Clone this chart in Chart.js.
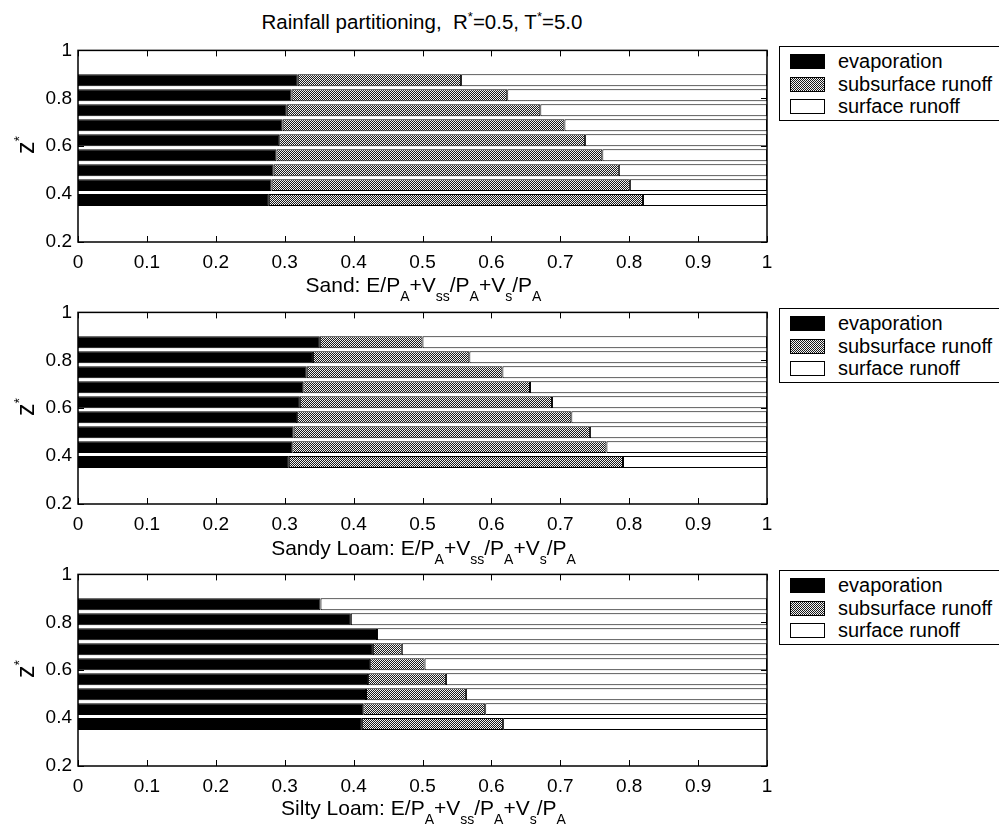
<!DOCTYPE html>
<html>
<head>
<meta charset="utf-8">
<script src="https://cdn.jsdelivr.net/npm/chart.js@4.4.1/dist/chart.umd.min.js"></script>
<style>
  body { margin: 0; background: #fff; }
  #page { position: relative; width: 999px; height: 829px; overflow: hidden; background: #fff;
          font-family: 'Liberation Sans', Arial, sans-serif; color: #000; }
  .cv { position: absolute; left: 0; }
  .txt { position: absolute; white-space: nowrap; font-size: 21px; line-height: 22px; }
  .txt sub { font-size: 14px; vertical-align: -9px; line-height: 0; }
  .txt sup { font-size: 13px; vertical-align: 8px; line-height: 0; }
  .title { font-size: 20.5px; }
  .ytitle { font-size: 25px; transform: translate(-50%, -50%) rotate(-90deg); }
  .ytitle sup { font-size: 14px; vertical-align: 10px; }
  .xtitle { transform: translateX(-50%); }
  .legend { position: absolute; left: 779px; width: 240px; height: 73px; border: 1px solid #000; background: #fff; }
  .legend .sw { position: absolute; left: 10px; width: 33px; height: 13px; border: 1px solid #000; }
  .legend .lb { position: absolute; left: 58px; font-size: 20px; line-height: 20px; white-space: nowrap; }
  .hatch { background: repeating-conic-gradient(#1a1a1a 0 25%, #f2f2f2 0 50%) 0 0 / 2px 2px; }
</style>
</head>
<body>
<div id="page">
  <div class="txt title xtitle" style="left:422px; top:11px;">Rainfall partitioning,&nbsp; R<sup>*</sup>=0.5, T<sup>*</sup>=5.0</div>
</div>

<script>
// ─── DATA ────────────────────────────────────────────
// depth levels z* (bottom bar to top bar)
const Z_LEVELS = [0.375, 0.4375, 0.5, 0.5625, 0.625, 0.6875, 0.75, 0.8125, 0.875];

const SERIES = ['evaporation', 'subsurface runoff', 'surface runoff'];
const SOILS = ['Sand', 'Sandy Loam', 'Silty Loam'];

const SAND_EVAP = [0.277, 0.281, 0.284, 0.288, 0.292, 0.297, 0.303, 0.310, 0.319];
const SAND_SUB  = [0.543, 0.520, 0.501, 0.473, 0.444, 0.409, 0.368, 0.313, 0.237];
const SAND_SURF = [0.180, 0.199, 0.215, 0.239, 0.264, 0.294, 0.329, 0.377, 0.444];

const SANDY_LOAM_EVAP = [0.306, 0.311, 0.313, 0.318, 0.322, 0.327, 0.332, 0.341, 0.351];
const SANDY_LOAM_SUB  = [0.485, 0.456, 0.430, 0.398, 0.366, 0.329, 0.284, 0.227, 0.149];
const SANDY_LOAM_SURF = [0.209, 0.233, 0.257, 0.284, 0.312, 0.344, 0.384, 0.432, 0.500];

const SILTY_LOAM_EVAP = [0.412, 0.414, 0.418, 0.421, 0.424, 0.428, 0.434, 0.396, 0.352];
const SILTY_LOAM_SUB  = [0.205, 0.177, 0.145, 0.113, 0.079, 0.042, 0, 0, 0];
const SILTY_LOAM_SURF = [0.383, 0.409, 0.437, 0.466, 0.497, 0.530, 0.566, 0.604, 0.648];

const X_TICKS = [0, 0.1, 0.2, 0.3, 0.4, 0.5, 0.6, 0.7, 0.8, 0.9, 1];
const X_TICK_LABELS = ['0', '0.1', '0.2', '0.3', '0.4', '0.5', '0.6', '0.7', '0.8', '0.9', '1'];
const Y_TICKS = [0.2, 0.4, 0.6, 0.8, 1];
const Y_TICK_LABELS = ['0.2', '0.4', '0.6', '0.8', '1'];

// ─── LAYOUT ──────────────────────────────────────────
const FONT = "'Liberation Sans', Arial, sans-serif";
const PLOT_TOPS = [45, 307, 569];
const PLOT_H = 197;
const PAD_TOP = 12;
const XAXIS_H = 40;
const YAXIS_W = 78;
const CANVAS_W = 790;
const PLOT_RIGHT = 767;
const TICK = 6;
const XTITLE_TOPS = [274, 537, 797];

function makeHatch() {
  const c = document.createElement('canvas');
  c.width = 2; c.height = 2;
  const g = c.getContext('2d');
  g.fillStyle = '#f2f2f2'; g.fillRect(0, 0, 2, 2);
  g.fillStyle = '#1a1a1a'; g.fillRect(0, 0, 1, 1); g.fillRect(1, 1, 1, 1);
  return g.createPattern(c, 'repeat');
}
const HATCH = makeHatch();

// frame + inward ticks, matlab style
const framePlugin = {
  id: 'frame',
  afterDatasetsDraw(chart) {
    const { ctx, chartArea: a, scales: { x, y } } = chart;
    ctx.save();
    ctx.strokeStyle = '#000';
    ctx.lineWidth = 1.5;
    ctx.strokeRect(a.left, a.top, a.right - a.left, a.bottom - a.top);
    ctx.lineWidth = 1;
    ctx.beginPath();
    X_TICKS.forEach(v => {
      const px = Math.round(x.getPixelForValue(v)) + 0.5;
      ctx.moveTo(px, a.bottom); ctx.lineTo(px, a.bottom - TICK);
      ctx.moveTo(px, a.top); ctx.lineTo(px, a.top + TICK);
    });
    Y_TICKS.forEach(v => {
      const py = Math.round(y.getPixelForValue(v)) + 0.5;
      ctx.moveTo(a.left, py); ctx.lineTo(a.left + TICK, py);
      ctx.moveTo(a.right, py); ctx.lineTo(a.right - TICK, py);
    });
    ctx.stroke();
    ctx.restore();
  }
};

function pts(values) {
  return values.map((v, i) => ({ x: v, y: Z_LEVELS[i] }));
}

function buildPanel(idx, evap, sub, surf) {
  const page = document.getElementById('page');
  const top = PLOT_TOPS[idx];

  const canvas = document.createElement('canvas');
  canvas.className = 'cv';
  canvas.width = CANVAS_W;
  canvas.height = PAD_TOP + PLOT_H + XAXIS_H;
  canvas.style.top = (top - PAD_TOP) + 'px';
  page.appendChild(canvas);

  const common = { borderColor: '#000', borderWidth: 1, borderSkipped: false,
                   barPercentage: 1.0, categoryPercentage: 0.8 };

  new Chart(canvas, {
    type: 'bar',
    data: {
      datasets: [
        { label: SERIES[0], data: pts(evap), backgroundColor: '#000', ...common },
        { label: SERIES[1], data: pts(sub), backgroundColor: HATCH, ...common },
        { label: SERIES[2], data: pts(surf), backgroundColor: '#fff', ...common },
      ]
    },
    options: {
      indexAxis: 'y',
      responsive: false,
      animation: false,
      layout: { padding: { top: PAD_TOP, right: CANVAS_W - PLOT_RIGHT, left: 0, bottom: 0 } },
      plugins: { legend: { display: false }, tooltip: { enabled: false } },
      scales: {
        x: {
          type: 'linear', min: 0, max: 1, stacked: true,
          grid: { display: false, drawTicks: false }, border: { display: false },
          afterBuildTicks: s => { s.ticks = X_TICKS.map(v => ({ value: v })); },
          afterFit: s => { s.height = XAXIS_H; },
          ticks: { color: '#000', font: { family: FONT, size: 19 }, padding: 9,
                   maxRotation: 0, autoSkip: false,
                   callback: (v, i) => X_TICK_LABELS[i] }
        },
        y: {
          type: 'linear', min: 0.2, max: 1, stacked: true, offset: false,
          grid: { display: false, drawTicks: false, offset: false }, border: { display: false },
          afterBuildTicks: s => { s.ticks = Y_TICKS.map(v => ({ value: v })); },
          afterFit: s => { s.width = YAXIS_W; },
          ticks: { color: '#000', font: { family: FONT, size: 19 }, padding: 6,
                   autoSkip: false, callback: (v, i) => Y_TICK_LABELS[i] }
        }
      }
    },
    plugins: [framePlugin]
  });

  // axis titles
  const yt = document.createElement('div');
  yt.className = 'txt ytitle';
  yt.style.left = '25px';
  yt.style.top = (top + PLOT_H / 2 + 1) + 'px';
  yt.innerHTML = 'z<sup>*</sup>';
  page.appendChild(yt);

  const xt = document.createElement('div');
  xt.className = 'txt xtitle';
  xt.style.left = ((YAXIS_W + PLOT_RIGHT) / 2 + 1) + 'px';
  xt.style.top = XTITLE_TOPS[idx] + 'px';
  xt.innerHTML = SOILS[idx] + ': E/P<sub>A</sub>+V<sub>ss</sub>/P<sub>A</sub>+V<sub>s</sub>/P<sub>A</sub>';
  page.appendChild(xt);

  // legend box
  const lg = document.createElement('div');
  lg.className = 'legend';
  lg.style.top = (top + 1) + 'px';
  const swClass = ['', 'hatch', ''];
  const swBg = ['#000', '', '#fff'];
  SERIES.forEach((name, i) => {
    const rowTop = 7 + i * 22.5;
    lg.innerHTML += `<div class="sw ${swClass[i]}" style="top:${rowTop}px;${swBg[i] ? 'background:' + swBg[i] : ''}"></div>` +
                    `<div class="lb" style="top:${rowTop - 3}px">${name}</div>`;
  });
  page.appendChild(lg);
}

buildPanel(0, SAND_EVAP, SAND_SUB, SAND_SURF);
buildPanel(1, SANDY_LOAM_EVAP, SANDY_LOAM_SUB, SANDY_LOAM_SURF);
buildPanel(2, SILTY_LOAM_EVAP, SILTY_LOAM_SUB, SILTY_LOAM_SURF);
</script>
</body>
</html>
